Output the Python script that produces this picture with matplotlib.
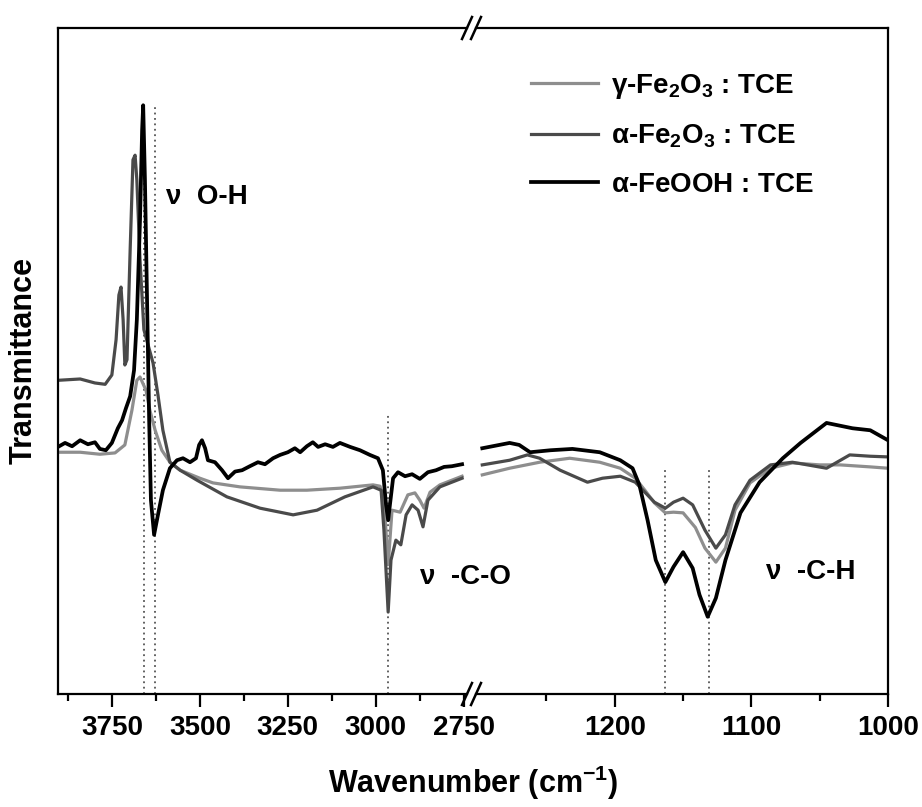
import numpy as np
import matplotlib
matplotlib.use("Agg")
import matplotlib.pyplot as plt
from matplotlib.lines import Line2D

plt.rcParams['font.family'] = ['Liberation Sans', 'DejaVu Sans']
plt.rcParams['font.weight'] = 'bold'
plt.rcParams['mathtext.fontset'] = 'custom'
plt.rcParams['mathtext.rm'] = 'Liberation Sans:bold'
plt.rcParams['mathtext.it'] = 'Liberation Sans:bold'
plt.rcParams['mathtext.bf'] = 'Liberation Sans:bold'

# ---------------------------------------------------------------
# Spectra, high-wavenumber window (3900 - 2750 cm-1)
gamma_hi_wn = [3903, 3840, 3784, 3741, 3713, 3693, 3679, 3670, 3653, 3642, 3627, 3608, 3585,
               3556, 3500, 3463, 3386, 3272, 3196, 3102, 3008, 2988, 2977, 2965, 2954, 2931,
               2909, 2889, 2875, 2863, 2846, 2818, 2755]
gamma_hi_t = [36.3, 36.3, 36.0, 36.2, 37.4, 42.6, 47.1, 47.6, 45.6, 42.6, 39.6, 36.6, 34.8,
              33.6, 32.4, 31.7, 31.1, 30.6, 30.6, 30.9, 31.4, 31.2, 29.1, 19.4, 27.6, 27.3,
              29.9, 30.2, 29.1, 27.9, 30.3, 31.4, 32.7]

alpha_hi_wn = [3903, 3840, 3798, 3769, 3750, 3738, 3730, 3724, 3718, 3713, 3707, 3698, 3690,
               3684, 3679, 3670, 3659, 3647, 3633, 3619, 3605, 3585, 3556, 3508, 3423, 3329,
               3235, 3167, 3088, 3008, 2985, 2977, 2965, 2957, 2943, 2929, 2914, 2897, 2880,
               2866, 2852, 2818, 2755]
alpha_hi_t = [47.1, 47.3, 46.7, 46.5, 47.9, 53.2, 59.9, 61.1, 56.2, 49.4, 50.2, 66.7, 80.2,
              80.9, 77.2, 65.2, 54.7, 52.4, 49.7, 44.9, 39.6, 34.8, 33.6, 32.1, 29.6, 27.9,
              26.9, 27.6, 29.6, 31.1, 30.6, 24.6, 12.3, 20.1, 23.1, 22.4, 26.9, 28.4, 27.6,
              25.1, 29.1, 31.1, 32.4]

feooh_hi_wn = [3903, 3883, 3863, 3840, 3818, 3798, 3784, 3767, 3750, 3733, 3721, 3710, 3698,
               3687, 3679, 3670, 3664, 3661, 3656, 3650, 3644, 3639, 3630, 3619, 3605, 3585,
               3565, 3548, 3528, 3511, 3502, 3494, 3485, 3477, 3457, 3437, 3420, 3400, 3380,
               3358, 3335, 3315, 3292, 3272, 3250, 3230, 3215, 3196, 3179, 3164, 3144, 3122,
               3102, 3073, 3045, 3017, 2994, 2980, 2971, 2965, 2960, 2951, 2937, 2917, 2897,
               2875, 2852, 2829, 2806, 2784, 2755]
feooh_hi_t = [37.1, 37.7, 37.2, 38.1, 37.5, 37.8, 36.8, 36.6, 37.7, 39.9, 41.1, 42.9, 44.7,
              48.6, 56.2, 71.2, 84.7, 88.4, 77.2, 59.2, 41.1, 29.1, 23.9, 26.9, 30.6, 33.9,
              35.1, 35.4, 34.8, 35.4, 37.4, 38.1, 36.9, 35.1, 34.8, 33.6, 32.4, 33.4, 33.6,
              34.2, 34.8, 34.5, 35.4, 35.9, 36.3, 36.9, 36.3, 37.2, 37.8, 37.1, 37.5, 37.1,
              37.7, 37.1, 36.6, 35.9, 35.4, 33.6, 28.4, 26.1, 28.4, 32.4, 33.3, 32.7, 33.0,
              32.3, 33.3, 33.6, 34.1, 34.2, 34.5]

# Spectra, low-wavenumber window (1300 - 1000 cm-1)
gamma_lo_wn = [1297, 1277, 1255, 1233, 1211, 1196, 1185, 1178, 1171, 1163, 1157, 1150, 1141,
               1134, 1126, 1119, 1112, 1101, 1086, 1070, 1050, 1035, 1013, 1000]
gamma_lo_t = [32.9, 33.9, 34.8, 35.4, 34.8, 33.9, 32.4, 30.6, 28.7, 27.2, 27.3, 27.2, 25.0,
              21.9, 19.8, 21.9, 27.6, 31.7, 33.9, 34.7, 34.4, 34.4, 34.1, 33.9]

alpha_lo_wn = [1297, 1277, 1264, 1255, 1240, 1220, 1209, 1196, 1185, 1178, 1171, 1163, 1157,
               1150, 1143, 1134, 1126, 1119, 1112, 1101, 1086, 1070, 1045, 1028, 1013, 1000]
alpha_lo_t = [34.4, 35.1, 35.9, 35.4, 33.6, 31.8, 32.4, 32.7, 31.8, 30.3, 28.8, 27.9, 28.8,
              29.4, 28.4, 24.6, 21.9, 23.9, 28.4, 32.1, 34.4, 34.8, 33.9, 35.9, 35.7, 35.6]

feooh_lo_wn = [1297, 1277, 1270, 1262, 1247, 1231, 1211, 1196, 1187, 1182, 1176, 1170, 1163,
               1157, 1150, 1143, 1138, 1132, 1126, 1119, 1108, 1094, 1077, 1064, 1045, 1026,
               1013, 1000]
feooh_lo_t = [36.9, 37.7, 37.4, 36.3, 36.6, 36.8, 36.3, 35.1, 33.9, 31.4, 26.1, 20.1, 16.8,
              19.1, 21.3, 18.9, 14.9, 11.6, 14.4, 20.1, 27.2, 31.8, 35.4, 37.7, 40.7, 39.9,
              39.6, 38.1]

# band positions marked with dotted lines
oh_marks = [3659, 3627]
co_mark = 2965
ch_marks = [1163, 1131]

# axis ticks
hi_major = [3750, 3500, 3250, 3000, 2750]
hi_minor = [3875, 3625, 3375, 3125, 2875]
lo_major = [1200, 1100, 1000]
lo_minor = [1250, 1150, 1050]

# legend text
labels = [r'$\gamma$-Fe$_2$O$_3$ : TCE', r'$\alpha$-Fe$_2$O$_3$ : TCE', r'$\alpha$-FeOOH : TCE']
colors = ['#8e8e8e', '#4a4a4a', '#000000']
widths = [2.3, 2.3, 2.7]

W, H = 922, 807
fig = plt.figure(figsize=(W / 100, H / 100), dpi=100)


def fx(px):
    return px / W


def fy(py):
    return 1 - py / H


ax1 = fig.add_axes([fx(58), fy(694), fx(467 - 58), (694 - 28) / H])
ax2 = fig.add_axes([fx(476), fy(694), fx(888 - 476), (694 - 28) / H])

series_hi = [(gamma_hi_wn, gamma_hi_t), (alpha_hi_wn, alpha_hi_t), (feooh_hi_wn, feooh_hi_t)]
series_lo = [(gamma_lo_wn, gamma_lo_t), (alpha_lo_wn, alpha_lo_t), (feooh_lo_wn, feooh_lo_t)]

for (x, y), c, lw, lab in zip(series_hi, colors, widths, labels):
    ax1.plot(x, y, color=c, lw=lw, label=lab)
for (x, y), c, lw, lab in zip(series_lo, colors, widths, labels):
    ax2.plot(x, y, color=c, lw=lw, label=lab)

dot = dict(color='#555555', lw=1.3, linestyle=(0, (1, 2)), zorder=0)
for m in oh_marks:
    ax1.plot([m, m], [0, 88.5], **dot)
ax1.plot([co_mark, co_mark], [0, 42.2], **dot)
for m in ch_marks:
    ax2.plot([m, m], [0, 33.6], **dot)

ax1.set_xlim(3903, 2741)
ax2.set_xlim(1301.6, 1000)
ax1.set_xticks(hi_major)
ax1.set_xticks(hi_minor, minor=True)
ax2.set_xticks(lo_major)
ax2.set_xticks(lo_minor, minor=True)
for ax in (ax1, ax2):
    ax.set_ylim(0, 100)
    ax.set_yticks([])
    for s in ax.spines.values():
        s.set_linewidth(1.6)
    ax.tick_params(axis='x', which='major', direction='out', length=9, width=1.6,
                   labelsize=20, pad=6)
    ax.tick_params(axis='x', which='minor', direction='out', length=5, width=1.6)
    for t in ax.get_xticklabels():
        t.set_fontweight('bold')

ax1.spines['right'].set_visible(False)
ax2.spines['left'].set_visible(False)

# break marks
for ypx in (28, 694):
    for xpx in (467, 476):
        fig.add_artist(Line2D([fx(xpx - 5), fx(xpx + 5)], [fy(ypx + 11), fy(ypx - 11)],
                              color='black', lw=1.8, transform=fig.transFigure))

# annotations
fig.text(fx(166), fy(197), 'ν  O-H', fontsize=20, fontweight='bold', va='center', ha='left')
fig.text(fx(420), fy(577), 'ν  -C-O', fontsize=20, fontweight='bold', va='center', ha='left')
fig.text(fx(766), fy(572), 'ν  -C-H', fontsize=20, fontweight='bold', va='center', ha='left')

fig.text(fx(473), fy(783), 'Wavenumber (cm$^{-1}$)', fontsize=22, fontweight='bold',
         ha='center', va='center')
fig.text(fx(24), fy(360), 'Transmittance', fontsize=22, fontweight='bold', rotation=90,
         ha='center', va='center')

ax2.legend(loc='upper left', bbox_to_anchor=(fx(517), fy(58)), bbox_transform=fig.transFigure,
           frameon=False, fontsize=20, handlelength=2.4, handletextpad=0.5,
           labelspacing=0.78, borderpad=0)

fig.savefig('out.png', dpi=100)
